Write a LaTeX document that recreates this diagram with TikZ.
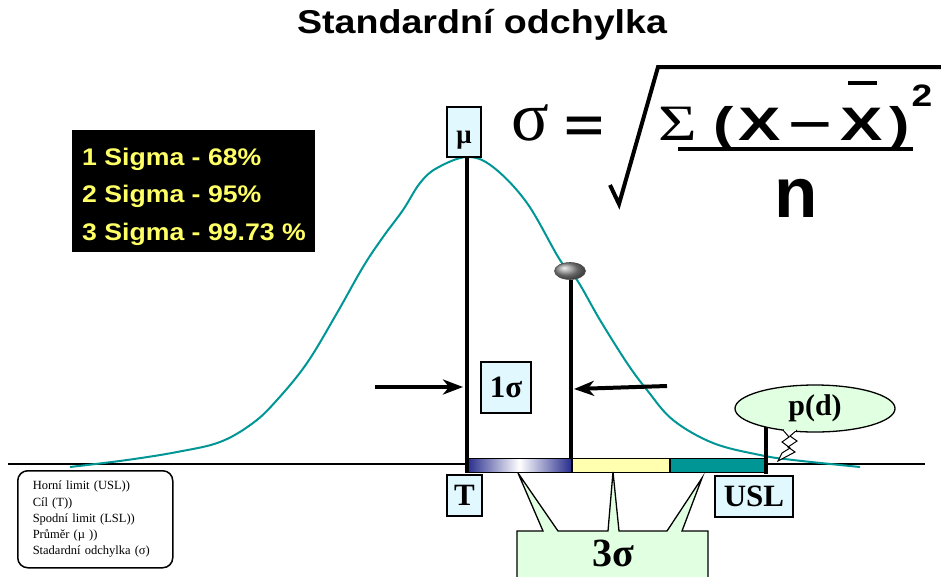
\documentclass[tikz,border=0pt]{standalone}
\usepackage{fontspec}
\setmainfont{Liberation Serif}
\setsansfont{Liberation Sans}
\usetikzlibrary{shapes.geometric, arrows.meta, positioning, shadings}

\definecolor{curveteal}{RGB}{0,150,150}
\definecolor{lblcyan}{RGB}{225,248,255}
\definecolor{callgreen}{RGB}{225,255,225}
\definecolor{baryellow}{RGB}{255,255,175}
\definecolor{txtyellow}{RGB}{255,255,102}
\definecolor{barnavy}{RGB}{40,45,140}
\newcommand{\fsz}[1]{\fontsize{#1pt}{#1pt}\selectfont}

\begin{document}
\begin{tikzpicture}[
  x=1pt, y=-1pt,
  lbl/.style={draw, fill=lblcyan, line width=1.3pt, inner sep=0pt, font=\bfseries\fsz{31}},
  post/.style={line width=4pt},
  ark/.style={-{Stealth[length=20pt, width=15pt, inset=6pt]}, line width=4pt},
  seg/.style={draw, line width=0.8pt, minimum width=100, minimum height=14, inner sep=0pt, anchor=north west},
  sig/.style={text=txtyellow, font=\sffamily\bfseries\fsz{24}, anchor=base west, inner sep=0pt},
  frm/.style={font=\sffamily\bfseries\fsz{47}, anchor=base, inner sep=0pt}
]
\useasboundingbox (0,0) rectangle (941,576);

% title
\node[font=\sffamily\bfseries\fsz{33}, anchor=base] (title) at (482,33) {\scalebox{1.14}[1]{Standardní odchylka}};

% sigma table
\node[fill=black, minimum width=243, minimum height=122, anchor=north west, inner sep=0pt] (sigbox) at (72,130) {};
\node[sig] (s1) at (82,165) {\scalebox{1.11}[1]{1 Sigma - 68\%}};
\node[sig] (s2) at (82,202) {\scalebox{1.11}[1]{2 Sigma - 95\%}};
\node[sig] (s3) at (82,240) {\scalebox{1.11}[1]{3 Sigma - 99.73 \%}};

% formula
\node[font=\fsz{70}, anchor=base, inner sep=0pt] (fsig) at (530,140) {σ};
\node[frm] (feq) at (584,141) {\scalebox{1.45}[1]{=}};
\node[font=\fsz{51}, anchor=base, inner sep=0pt] (fsum) at (678,140) {\scalebox{1.3}[1]{Σ}};
\node[frm] (flp) at (724,140) {\scalebox{1.3}[1]{(}};
\node[frm] (fx) at (760,140) {\scalebox{1.35}[1]{X}};
\node[frm] (fmin) at (810,137) {\scalebox{1.6}[1]{–}};
\node[frm] (fxb) at (862,140) {\scalebox{1.35}[1]{X}};
\node[frm] (frp) at (900,140) {\scalebox{1.3}[1]{)}};
\node[frm, font=\sffamily\bfseries\fsz{31}] (fsq) at (922,106) {\scalebox{1.2}[1]{2}};
\node[frm, font=\sffamily\bfseries\fsz{71}] (fn) at (796,217) {n};
\draw[line width=4pt] (848,83) -- (877,83);
\draw[line width=4pt] (678,149) -- (913,149);
\draw[line width=4pt, line join=miter] (610,185) -- (619,204) -- (658,67) -- (941,67);

% axis and curve
\draw[line width=1.2pt] (8,464) -- (925,464);
\draw[curveteal, line width=2pt] plot[smooth, tension=0.6] coordinates {
  (70,467) (127,460) (177,452) (220,442) (253,423) (277,400) (307,363)
  (337,313) (363,267) (383,237) (403,210) (420,183) (437,168) (467,157)
  (493,167) (527,203) (560,260) (577,280) (600,320) (627,363) (647,390)
  (673,420) (713,443) (760,455) (793,460) (860,467)};

% bar
\node[seg, minimum width=104, left color=barnavy, right color=barnavy, middle color=white] (bar1) at (467,458) {};
\node[seg, minimum width=97, fill=baryellow, anchor=north west] (bar2) at (bar1.north east) {};
\node[seg, minimum width=97, fill=curveteal, anchor=north west] (bar3) at (bar2.north east) {};

% posts
\coordinate (mutop) at (466.5,157);
\coordinate (mubot) at (466.5,473);
\draw[post] (mutop) -- (mubot);
\node[ellipse, draw=black!70, line width=0.6pt, ball color=gray!85, minimum width=31, minimum height=17, inner sep=0pt] (dot) at (570,271) {};
\coordinate (sdbot) at (571,458);
\draw[post] (dot.south) ++(1,0) -- (sdbot);
\coordinate (usltop) at (766,427);
\coordinate (uslbot) at (766,474);
\draw[post] (usltop) -- (uslbot);

% labels
\node[lbl, minimum width=34, minimum height=50, text height=30pt, text depth=8pt, font=\bfseries\fsz{27}] (mu) at (464,132) {μ};
\node[lbl, minimum width=35, minimum height=41] (tgt) at (464.5,495.5) {T};
\node[lbl, minimum width=78, minimum height=41] (usl) at (754,496.5) {USL};
\node[lbl, minimum width=50, minimum height=51] (one) at (506,387.5) {1σ};

% arrows
\coordinate (la) at (375,387);
\coordinate (lb) at (463,387);
\coordinate (ra) at (667,386);
\coordinate (rb) at (574,389);
\draw[ark] (la) -- (lb);
\draw[ark] (ra) -- (rb);

% p(d) callout
\node[ellipse, draw, line width=1.3pt, fill=callgreen, minimum width=160, minimum height=47, inner sep=0pt, font=\bfseries\fsz{30}] (pd) at (815,408.5) {p(d)\hspace{20pt}};
\draw[line width=1pt, fill=white, line join=miter] (783,430) -- (789,437) -- (782,442) -- (790,448) -- (782,453) -- (778,461)
  -- (795,452) -- (788,447) -- (797,441) -- (790,436) -- (797,430);
\draw[callgreen, line width=2pt] (784,430) -- (796,430);

% 3 sigma callout
\draw[line width=1.3pt, fill=callgreen, line join=miter] (517,590) -- (517,531) -- (543,531) -- (518,473) -- (558,531)
  -- (608,531) -- (613,472) -- (619,531) -- (667,531) -- (702,478) -- (682,531) -- (708,531) -- (708,590);
\node[font=\bfseries\fsz{40}] (three) at (613,553) {3σ};

% legend
\node[draw, rounded corners=10pt, line width=1.5pt, anchor=north west, text width=125, inner xsep=15, minimum height=97,
  align=left, font=\fontsize{12.5pt}{16.2pt}\selectfont] (legend) at (17,470) {Horní limit (USL))\\Cíl (T))\\Spodní limit (LSL))\\Průměr (µ ))\\Stadardní odchylka (σ)};
\end{tikzpicture}
\end{document}
